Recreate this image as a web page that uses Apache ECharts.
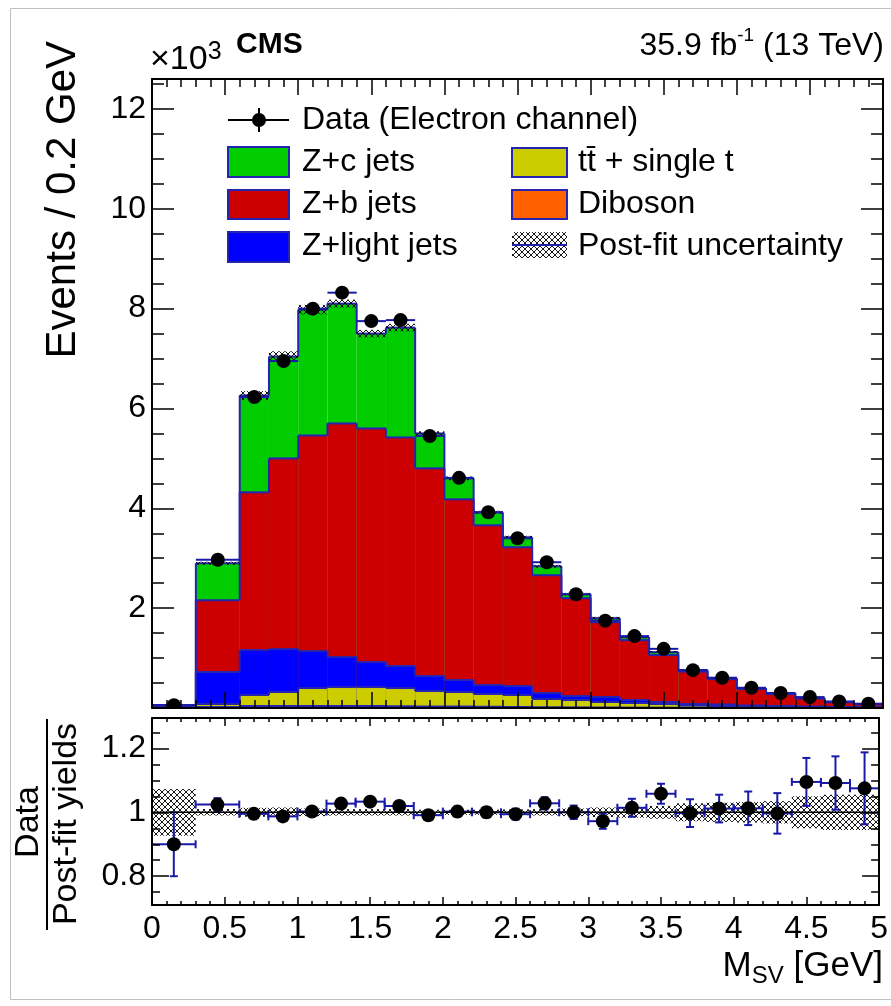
<!DOCTYPE html>
<html><head><meta charset="utf-8">
<script src="https://cdn.jsdelivr.net/npm/echarts@6/dist/echarts.min.js"></script>
<style>html,body{margin:0;padding:0;background:#fff}#c{width:891px;height:1006px}</style>
</head><body><div id="c"></div>
<script>
// ---------------- data (events in units of 10^3) ----------------
const binEdges = [0, 0.3, 0.6, 0.8, 1.0, 1.2, 1.4, 1.6, 1.8, 2.0, 2.2, 2.4, 2.6, 2.8, 3.0, 3.2, 3.4, 3.6, 3.8, 4.0, 4.2, 4.4, 4.6, 4.8, 5.0];
const zcJets   = [0.015, 0.74, 1.94, 2.04, 2.52, 2.40, 1.90, 2.20, 0.70, 0.42, 0.26, 0.20, 0.18, 0.08, 0.08, 0.06, 0.06, 0.03, 0.02, 0.02, 0.02, 0.01, 0.005, 0.005];
const zbJets   = [0.015, 1.44, 3.16, 3.82, 4.32, 4.68, 4.68, 4.58, 4.16, 3.62, 3.20, 2.78, 2.36, 1.96, 1.50, 1.20, 0.94, 0.65, 0.51, 0.33, 0.24, 0.16, 0.095, 0.06];
const zLight   = [0.02, 0.64, 0.90, 0.86, 0.74, 0.60, 0.50, 0.44, 0.30, 0.24, 0.18, 0.18, 0.12, 0.08, 0.10, 0.06, 0.04, 0.03, 0.03, 0.02, 0.02, 0.015, 0.01, 0.007];
const ttSingleT= [0.008, 0.06, 0.22, 0.28, 0.36, 0.38, 0.38, 0.365, 0.31, 0.29, 0.255, 0.24, 0.165, 0.148, 0.11, 0.092, 0.074, 0.045, 0.036, 0.027, 0.018, 0.013, 0.009, 0.007];
const diboson  = [0.002, 0.02, 0.04, 0.04, 0.04, 0.04, 0.04, 0.035, 0.03, 0.03, 0.025, 0.02, 0.015, 0.012, 0.01, 0.008, 0.006, 0.005, 0.004, 0.003, 0.002, 0.002, 0.001, 0.001];
const dataVals = [0.054, 2.97, 6.23, 6.95, 8.00, 8.32, 7.75, 7.77, 5.45, 4.61, 3.92, 3.40, 2.92, 2.28, 1.75, 1.44, 1.185, 0.758, 0.607, 0.405, 0.299, 0.219, 0.131, 0.086];
const dataErr  = [0.006, 0.058, 0.081, 0.084, 0.088, 0.089, 0.083, 0.084, 0.077, 0.069, 0.063, 0.058, 0.054, 0.048, 0.043, 0.040, 0.035, 0.033, 0.026, 0.021, 0.019, 0.015, 0.010, 0.009];
const postFitRelUnc = [0.073, 0.010, 0.014, 0.015, 0.012, 0.010, 0.010, 0.010, 0.008, 0.008, 0.008, 0.009, 0.010, 0.012, 0.015, 0.017, 0.020, 0.028, 0.030, 0.032, 0.035, 0.050, 0.055, 0.055];

const xTickLabels = [0, 0.5, 1, 1.5, 2, 2.5, 3, 3.5, 4, 4.5, 5];
const yMainTickLabels = [2, 4, 6, 8, 10, 12];
const yRatioTickLabels = [0.8, 1, 1.2];

// ---------------- styling ----------------
const FONT = '"Liberation Sans", Arial, Helvetica, sans-serif';
const OUTLINE = '#2424b0';
const ERRC = '#1a1aa8';
const COLORS = { zc: '#00cc00', zb: '#cc0000', light: '#0000ff', tt: '#cccc00', db: '#ff6000' };

const hatch = (function () {
  const c = document.createElement('canvas'); c.width = 6; c.height = 6;
  const g = c.getContext('2d');
  g.strokeStyle = 'rgba(0,0,0,0.9)'; g.lineWidth = 1;
  g.beginPath(); g.moveTo(0, 0); g.lineTo(6, 6); g.moveTo(6, 0); g.lineTo(0, 6); g.stroke();
  return c;
})();
const hatchFill = { image: hatch, repeat: 'repeat' };

const nb = binEdges.length - 1;
const centers = []; for (let i = 0; i < nb; i++) centers.push((binEdges[i] + binEdges[i + 1]) / 2);

// cumulative stack
function cumAdd(a, b) { return a.map((v, i) => v + b[i]); }
const cumDb = diboson.slice();
const cumTt = cumAdd(cumDb, ttSingleT);
const cumLight = cumAdd(cumTt, zLight);
const cumZb = cumAdd(cumLight, zbJets);
const cumZc = cumAdd(cumZb, zcJets);
const total = cumZc;

function histData(cum) {
  return cum.map((v, i) => [binEdges[i], binEdges[i + 1], v, i > 0 ? cum[i - 1] : 0]);
}
function renderHist(color) {
  return function (params, api) {
    const x0 = api.value(0), x1 = api.value(1), t = api.value(2), pt = api.value(3);
    const a = api.coord([x0, 0]), b = api.coord([x1, t]), p = api.coord([x0, pt]);
    return {
      type: 'group', children: [
        { type: 'rect', shape: { x: a[0], y: b[1], width: b[0] - a[0], height: a[1] - b[1] }, style: { fill: color } },
        { type: 'line', shape: { x1: a[0], y1: b[1], x2: b[0], y2: b[1] }, style: { stroke: OUTLINE, lineWidth: 2 } },
        { type: 'line', shape: { x1: a[0], y1: p[1], x2: a[0], y2: b[1] }, style: { stroke: OUTLINE, lineWidth: 2 } }
      ]
    };
  };
}
function renderBand(params, api) {
  const x0 = api.value(0), x1 = api.value(1), lo = api.value(2), hi = api.value(3);
  const a = api.coord([x0, lo]), b = api.coord([x1, hi]);
  return { type: 'rect', shape: { x: a[0], y: b[1], width: b[0] - a[0], height: a[1] - b[1] }, style: { fill: hatchFill } };
}
function renderData(caps) {
  return function (params, api) {
    const xc = api.value(0), x0 = api.value(1), x1 = api.value(2), y = api.value(3), e = api.value(4);
    const pc = api.coord([xc, y]), pl = api.coord([x0, y]), pr = api.coord([x1, y]);
    const pu = api.coord([xc, y + e]), pd = api.coord([xc, y - e]);
    const st = { stroke: ERRC, lineWidth: 2 };
    const ch = [
      { type: 'line', shape: { x1: pl[0], y1: pc[1], x2: pr[0], y2: pc[1] }, style: st },
      { type: 'line', shape: { x1: pc[0], y1: pu[1], x2: pc[0], y2: pd[1] }, style: st }
    ];
    if (caps) {
      const c = 4;
      ch.push({ type: 'line', shape: { x1: pl[0], y1: pc[1] - c, x2: pl[0], y2: pc[1] + c }, style: st });
      ch.push({ type: 'line', shape: { x1: pr[0], y1: pc[1] - c, x2: pr[0], y2: pc[1] + c }, style: st });
      ch.push({ type: 'line', shape: { x1: pc[0] - c, y1: pu[1], x2: pc[0] + c, y2: pu[1] }, style: st });
      ch.push({ type: 'line', shape: { x1: pc[0] - c, y1: pd[1], x2: pc[0] + c, y2: pd[1] }, style: st });
    }
    ch.push({ type: 'circle', shape: { cx: pc[0], cy: pc[1], r: 7 }, style: { fill: '#000' } });
    return { type: 'group', children: ch };
  };
}

// ---------------- axes ----------------
function range(a, b, s) { const r = []; const n = Math.round((b - a) / s); for (let i = 0; i <= n; i++) r.push(+(a + i * s).toFixed(4)); return r; }
const xMinor = range(0, 5, 0.1);
const yMainMinor = range(0, 12.5, 0.5);
const yRatioMinor = range(0.75, 1.25, 0.05);
const yMainMajor = [0].concat(yMainTickLabels);

function ax(grid, pos, min, max, ticks, len, labels, line, fs, margin) {
  return {
    type: 'value', gridIndex: grid, position: pos, min: min, max: max, z: 10,
    axisLine: { show: line, onZero: false, lineStyle: { color: '#000', width: 2 } },
    axisTick: { show: true, inside: true, length: len, customValues: ticks, lineStyle: { color: '#000', width: 1.5 } },
    minorTick: { show: false }, splitLine: { show: false },
    axisLabel: labels ? { show: true, customValues: labels, color: '#000', fontFamily: FONT, fontSize: fs, margin: margin, formatter: v => String(+v.toFixed(2)) } : { show: false }
  };
}
const G0 = { left: 152, top: 79, width: 731, height: 629 };
const G1 = { left: 152, top: 718, width: 731, height: 187 };
const Y0MAX = 12.6, Y1MIN = 0.71, Y1MAX = 1.295;

const xAxes = [
  ax(0, 'bottom', 0, 5, xTickLabels, 16, null, true),
  ax(0, 'bottom', 0, 5, xMinor, 8, null, false),
  ax(0, 'top', 0, 5, xTickLabels, 16, null, true),
  ax(0, 'top', 0, 5, xMinor, 8, null, false),
  ax(1, 'bottom', 0, 5, xTickLabels, 8, xTickLabels, true, 32, 8),
  ax(1, 'bottom', 0, 5, xMinor, 4, null, false),
  ax(1, 'top', 0, 5, xTickLabels, 8, null, true),
  ax(1, 'top', 0, 5, xMinor, 4, null, false)
];
const yAxes = [
  ax(0, 'left', 0, Y0MAX, yMainMajor, 22, yMainTickLabels, true, 32, 6),
  ax(0, 'left', 0, Y0MAX, yMainMinor, 12, null, false),
  ax(0, 'right', 0, Y0MAX, yMainMajor, 22, null, true),
  ax(0, 'right', 0, Y0MAX, yMainMinor, 12, null, false),
  ax(1, 'left', Y1MIN, Y1MAX, yRatioTickLabels, 17, yRatioTickLabels, true, 32, 6),
  ax(1, 'left', Y1MIN, Y1MAX, yRatioMinor, 8, null, false),
  ax(1, 'right', Y1MIN, Y1MAX, yRatioTickLabels, 17, null, true),
  ax(1, 'right', Y1MIN, Y1MAX, yRatioMinor, 8, null, false)
];

function hs(name, cum, color) {
  return { type: 'custom', name: name, xAxisIndex: 0, yAxisIndex: 0, renderItem: renderHist(color), data: histData(cum), encode: { x: [0, 1], y: [2] }, clip: true, silent: true };
}
const series = [
  hs('Z+c jets', cumZc, COLORS.zc),
  hs('Z+b jets', cumZb, COLORS.zb),
  hs('Z+light jets', cumLight, COLORS.light),
  hs('tt + single t', cumTt, COLORS.tt),
  hs('Diboson', cumDb, COLORS.db),
  { type: 'custom', name: 'unc', xAxisIndex: 0, yAxisIndex: 0, renderItem: renderBand, clip: true, silent: true, encode: { x: [0, 1], y: [2, 3] },
    data: total.map((v, i) => [binEdges[i], binEdges[i + 1], v * (1 - postFitRelUnc[i]), v * (1 + postFitRelUnc[i])]) },
  { type: 'custom', name: 'Data', xAxisIndex: 0, yAxisIndex: 0, renderItem: renderData(false), clip: true, silent: true, encode: { x: [0, 1, 2], y: [3] },
    data: dataVals.map((v, i) => [centers[i], binEdges[i], binEdges[i + 1], v, dataErr[i]]) },
  { type: 'custom', name: 'uncR', xAxisIndex: 4, yAxisIndex: 4, renderItem: renderBand, clip: true, silent: true, encode: { x: [0, 1], y: [2, 3] },
    data: total.map((v, i) => [binEdges[i], binEdges[i + 1], 1 - postFitRelUnc[i], 1 + postFitRelUnc[i]]) },
  { type: 'line', xAxisIndex: 4, yAxisIndex: 4, data: [[0, 1], [5, 1]], symbol: 'none', silent: true, lineStyle: { color: '#000', width: 1.5 } },
  { type: 'custom', name: 'Ratio', xAxisIndex: 4, yAxisIndex: 4, renderItem: renderData(true), clip: true, silent: true, encode: { x: [0, 1, 2], y: [3] },
    data: dataVals.map((v, i) => [centers[i], binEdges[i], binEdges[i + 1], v / total[i], dataErr[i] / total[i]]) }
];

// ---------------- texts / legend ----------------
function txt(x, y, text, font, align, vAlign, extra) {
  return Object.assign({ type: 'text', x: x, y: y, z: 20, style: { text: text, font: font, fill: '#000', textAlign: align || 'left', textVerticalAlign: vAlign || 'middle', align: align || 'left', verticalAlign: vAlign || 'middle' } }, extra || {});
}
function richTxt(x, y, text, rich, align, extra) {
  return Object.assign({ type: 'text', x: x, y: y, z: 20, style: { text: text, rich: rich, fill: '#000', textAlign: align, textVerticalAlign: 'middle', align: align, verticalAlign: 'middle' } }, extra || {});
}
const LF = '32px ' + FONT;
const graphics = [
  { type: 'rect', shape: { x: 10.5, y: 8.5, width: 900, height: 991 }, style: { fill: 'none', stroke: '#c0c0c0', lineWidth: 1 }, z: 0 },
  richTxt(150, 60, '{m|×10}{s|3}', {
    m: { fontSize: 34, fontFamily: FONT, lineHeight: 40, verticalAlign: 'middle', fill: '#000' },
    s: { fontSize: 25, fontFamily: FONT, lineHeight: 28, verticalAlign: 'top', fill: '#000' } }, 'left'),
  txt(236, 45, 'CMS', 'bold 30px ' + FONT, 'left'),
  richTxt(884, 46, '{m|35.9 fb}{s|-1}{m| (13 TeV)}', {
    m: { fontSize: 32, fontFamily: FONT, lineHeight: 40, verticalAlign: 'middle', fill: '#000' },
    s: { fontSize: 19, fontFamily: FONT, lineHeight: 24, verticalAlign: 'top', fill: '#000' } }, 'right'),
  txt(63, 41, 'Events / 0.2 GeV', '42px ' + FONT, 'right', 'middle', { rotation: Math.PI / 2 }),
  txt(29, 822, 'Data', '34px ' + FONT, 'center', 'middle', { rotation: Math.PI / 2 }),
  { type: 'line', shape: { x1: 47, y1: 719, x2: 47, y2: 930 }, style: { stroke: '#000', lineWidth: 2 }, z: 20 },
  txt(67, 824, 'Post-fit yields', '34px ' + FONT, 'center', 'middle', { rotation: Math.PI / 2 }),
  richTxt(883, 966, '{m|M}{s|SV}{m| [GeV]}', {
    m: { fontSize: 35, fontFamily: FONT, lineHeight: 44, verticalAlign: 'middle', fill: '#000' },
    s: { fontSize: 24, fontFamily: FONT, lineHeight: 22, verticalAlign: 'bottom', fill: '#000' } }, 'right'),
  // legend: data
  { type: 'line', shape: { x1: 228, y1: 120, x2: 289, y2: 120 }, style: { stroke: '#000', lineWidth: 2 }, z: 20 },
  { type: 'line', shape: { x1: 259, y1: 108, x2: 259, y2: 132 }, style: { stroke: '#000', lineWidth: 2 }, z: 20 },
  { type: 'circle', shape: { cx: 259, cy: 120, r: 7 }, style: { fill: '#000' }, z: 20 },
  txt(302, 120, 'Data (Electron channel)', LF),
  { type: 'rect', shape: { x: 228, y: 147, width: 61, height: 30 }, style: { fill: COLORS.zc, stroke: OUTLINE, lineWidth: 2 }, z: 20 },
  txt(302, 162, 'Z+c jets', LF),
  { type: 'rect', shape: { x: 228, y: 190, width: 61, height: 29 }, style: { fill: COLORS.zb, stroke: OUTLINE, lineWidth: 2 }, z: 20 },
  txt(302, 204, 'Z+b jets', LF),
  { type: 'rect', shape: { x: 228, y: 232, width: 61, height: 30 }, style: { fill: COLORS.light, stroke: OUTLINE, lineWidth: 2 }, z: 20 },
  txt(302, 246, 'Z+light jets', LF),
  { type: 'rect', shape: { x: 512, y: 148, width: 55, height: 29 }, style: { fill: COLORS.tt, stroke: OUTLINE, lineWidth: 2 }, z: 20 },
  txt(578, 162, 'tt\u0304 + single t', LF),
  { type: 'rect', shape: { x: 512, y: 190, width: 55, height: 29 }, style: { fill: COLORS.db, stroke: OUTLINE, lineWidth: 2 }, z: 20 },
  txt(578, 204, 'Diboson', LF),
  { type: 'rect', shape: { x: 512, y: 232, width: 55, height: 26 }, style: { fill: hatchFill }, z: 20 },
  { type: 'line', shape: { x1: 512, y1: 245, x2: 567, y2: 245 }, style: { stroke: OUTLINE, lineWidth: 2 }, z: 21 },
  txt(578, 246, 'Post-fit uncertainty', LF)
];

const chart = echarts.init(document.getElementById('c'), null, { renderer: 'canvas' });
chart.setOption({
  backgroundColor: '#fff',
  animation: false,
  grid: [Object.assign({ containLabel: false }, G0), Object.assign({ containLabel: false }, G1)],
  xAxis: xAxes,
  yAxis: yAxes,
  series: series,
  graphic: graphics
});
</script>
</body></html>
